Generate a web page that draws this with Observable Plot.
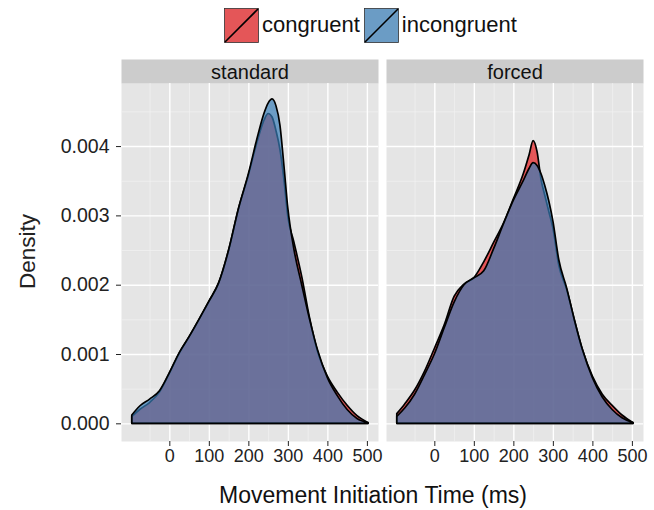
<!DOCTYPE html>
<html>
<head>
<meta charset="utf-8">
<script src="https://cdn.jsdelivr.net/npm/d3@7"></script>
<script src="https://cdn.jsdelivr.net/npm/@observablehq/plot@0.6"></script>
<style>
  html, body { margin: 0; padding: 0; background: white; }
  body { width: 654px; height: 510px; overflow: hidden; font-family: "Liberation Sans", Arial, Helvetica, sans-serif; color: #111; }
  #legend { height: 50px; display: flex; align-items: center; padding-left: 224px; box-sizing: border-box; }
  .item { display: flex; align-items: center; margin-right: 4px; }
  .item span { font-size: 22px; margin-left: 3px; }
  #xtitle { height: 30px; line-height: 30px; padding-left: 92px; text-align: center; font-size: 23px; }
</style>
</head>
<body>
<div id="legend"></div>
<div id="chart"></div>
<div id="xtitle">Movement Initiation Time (ms)</div>
<script>
// ---- data ----
const facets = ["standard", "forced"];
const groups = ["congruent", "incongruent"];
const colors = ["#E41A1C", "#377EB8"];

const times = [-95, -75, -50, -25, 0, 25, 50, 75, 100, 125, 150, 175, 200, 225, 240, 250, 260, 270, 280, 290, 300, 315, 335, 355, 375, 400, 425, 450, 475, 503];

const standardCongruent   = [0.00010, 0.00020, 0.00030, 0.00045, 0.00072, 0.00101, 0.00125, 0.00150, 0.00176, 0.00203, 0.00250, 0.00310, 0.00358, 0.00412, 0.00438, 0.00447, 0.00442, 0.00422, 0.00395, 0.00352, 0.00298, 0.00262, 0.00212, 0.00152, 0.00104, 0.00068, 0.00045, 0.00026, 0.00011, 0.00001];
const standardIncongruent = [0.00012, 0.00025, 0.00035, 0.00047, 0.00073, 0.00102, 0.00125, 0.00150, 0.00176, 0.00203, 0.00250, 0.00310, 0.00360, 0.00418, 0.00448, 0.00462, 0.00468, 0.00458, 0.00430, 0.00372, 0.00310, 0.00252, 0.00200, 0.00150, 0.00106, 0.00066, 0.00040, 0.00020, 0.00007, 0.00001];
const forcedCongruent     = [0.00014, 0.00028, 0.00048, 0.00075, 0.00108, 0.00142, 0.00183, 0.00201, 0.00210, 0.00233, 0.00261, 0.00289, 0.00324, 0.00360, 0.00388, 0.00408, 0.00392, 0.00352, 0.00328, 0.00305, 0.00282, 0.00228, 0.00193, 0.00148, 0.00106, 0.00068, 0.00042, 0.00026, 0.00012, 0.00001];
const forcedIncongruent   = [0.00010, 0.00022, 0.00042, 0.00070, 0.00100, 0.00138, 0.00175, 0.00200, 0.00210, 0.00220, 0.00252, 0.00288, 0.00322, 0.00350, 0.00368, 0.00376, 0.00372, 0.00360, 0.00342, 0.00320, 0.00292, 0.00236, 0.00195, 0.00148, 0.00106, 0.00066, 0.00038, 0.00020, 0.00008, 0.00001];

const xTicks = [0, 100, 200, 300, 400, 500];
const xMinor = [-50, 50, 150, 250, 350, 450];
const yTicks = [0, 0.001, 0.002, 0.003, 0.004];
const yMinor = [0.0005, 0.0015, 0.0025, 0.0035, 0.0045];

// ---- build table ----
const seriesTable = {
  standard: { congruent: standardCongruent, incongruent: standardIncongruent },
  forced: { congruent: forcedCongruent, incongruent: forcedIncongruent }
};
const rows = [];
for (const f of facets) for (const g of groups) {
  seriesTable[f][g].forEach((d, i) => rows.push({ condition: f, group: g, time: times[i], density: d }));
}

// ---- legend ----
const legend = document.getElementById("legend");
groups.forEach((g, i) => {
  const item = document.createElement("div");
  item.className = "item";
  item.innerHTML = `<svg width="35" height="35"><rect x="0.5" y="0.5" width="34" height="34" fill="#E5E5E5"/><rect x="0.5" y="0.5" width="34" height="34" fill="${colors[i]}" fill-opacity="0.7" stroke="#333" stroke-width="0.8"/><line x1="1" y1="34" x2="34" y2="1" stroke="black" stroke-width="1.6"/></svg><span>${g}</span>`;
  legend.appendChild(item);
});

// ---- plot ----
const H = 430, MT = 33, MB = 39;
const panelH = H - MT - MB;
const chart = Plot.plot({
  width: 654,
  height: H,
  marginTop: MT,
  marginBottom: MB,
  marginLeft: 121,
  marginRight: 11,
  style: { fontFamily: "'Liberation Sans', Arial, Helvetica, sans-serif", background: "white", color: "#111" },
  fx: { domain: facets, paddingInner: 0.031, paddingOuter: 0, label: null },
  x: { domain: [-122.3, 528.1] },
  y: { domain: [-0.000255, 0.00491] },
  color: { domain: groups, range: colors },
  marks: [
    Plot.frame({ fill: "#E5E5E5" }),
    Plot.frame({ fill: "#CCCCCC", insetTop: -24, insetBottom: panelH }),
    Plot.gridX(xMinor, { stroke: "#F2F2F2", strokeOpacity: 1, strokeWidth: 0.7 }),
    Plot.gridY(yMinor, { stroke: "#F2F2F2", strokeOpacity: 1, strokeWidth: 0.7 }),
    Plot.gridX(xTicks, { stroke: "white", strokeOpacity: 1, strokeWidth: 1.4 }),
    Plot.gridY(yTicks, { stroke: "white", strokeOpacity: 1, strokeWidth: 1.4 }),
    Plot.area(rows, {
      fx: "condition", x1: "time", y1: 0, y2: "density", z: "group",
      fill: "group", fillOpacity: 0.7, stroke: "black", strokeWidth: 1.7,
      curve: "monotone-x"
    }),
    Plot.axisX(xTicks, { tickSize: 5, tickPadding: 3, fontSize: 18, label: null, color: "#222" }),
    Plot.axisY(yTicks, { tickFormat: d3.format(".3f"), tickSize: 5, tickPadding: 7, fontSize: 19.5, color: "#222",
      label: "Density", labelAnchor: "center", labelOffset: 102, labelArrow: "none" }),
    Plot.axisFx({ anchor: "top", tickSize: 0, tickPadding: 5, fontSize: 20, label: null })
  ]
});
d3.select(chart).selectAll('[aria-label="y-axis label"]').each(function () {
  const t = d3.select(this);
  t.attr("font-size", 22.5);
  const tr = t.attr("transform") || "";
  t.attr("transform", "translate(0,-11) " + tr);
});
document.getElementById("chart").appendChild(chart);
</script>
</body>
</html>
